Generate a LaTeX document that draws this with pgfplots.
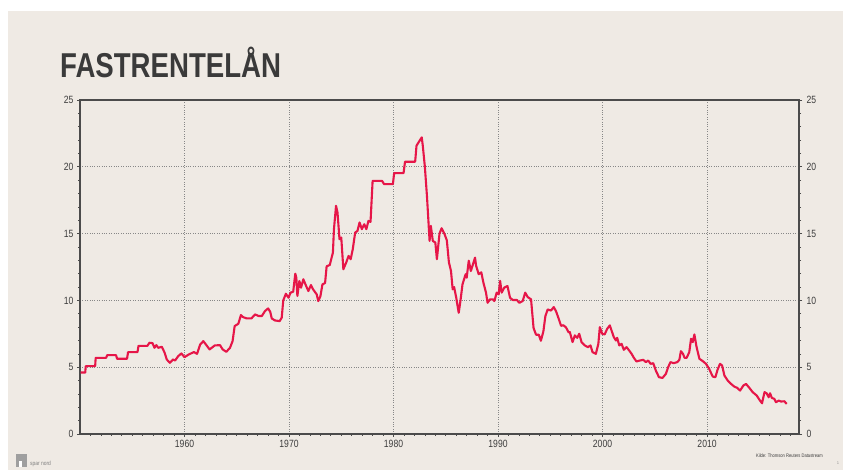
\documentclass[border=0pt]{standalone}
\usepackage{pgfplots}
\pgfplotsset{compat=1.18}
\usepackage{fontspec}
\setmainfont{Liberation Sans}[FakeStretch=0.82]
\newfontfamily\titlefont{Liberation Sans Bold}[FakeStretch=0.8]
\definecolor{bg}{RGB}{239,234,228}
\definecolor{linered}{RGB}{230,22,72}
\definecolor{axisgray}{RGB}{75,75,75}
\definecolor{gridgray}{RGB}{135,135,135}
\definecolor{titlegray}{RGB}{58,58,58}
\definecolor{txtgray}{RGB}{60,60,60}
\begin{document}
\begin{tikzpicture}[x=1pt,y=1pt]
\useasboundingbox (0,0) rectangle (843,470);
\fill[white] (0,0) rectangle (843,470);
\fill[bg] (8,0) rectangle (843,459);
\begin{axis}[
  scale only axis, width=719pt, height=334pt,
  at={(80pt,36pt)}, anchor=south west,
  xmin=1950, xmax=2018.8, ymin=0, ymax=25,
  xtick={1960,1970,...,2010}, minor xtick={1951,...,2018},
  ytick={0,5,...,25}, minor ytick={1,...,24},
  xmajorgrids, ymajorgrids,
  grid style={dotted, gridgray, line width=0.8pt},
  axis line style={axisgray, line width=1.6pt},
  tick style={axisgray, line width=0.6pt},
  tick align=outside, major tick length=3pt, minor tick length=2pt,
  xtick pos=left, ytick pos=both, yticklabel pos=left,
  tick label style={font=\fontsize{10.5}{10.5}\selectfont, text=txtgray},
  /pgf/number format/assume math mode=true,
  /pgf/number format/set thousands separator={},
]
\addplot[linered, line width=2.1pt, line join=round, no markers] table {
1950.05 4.6
1950.5 4.6
1950.55 5.08
1951.45 5.08
1951.5 5.7
1952.5 5.7
1952.6 5.9
1953.45 5.9
1953.55 5.63
1954.5 5.63
1954.6 6.13
1955.5 6.13
1955.6 6.6
1956.45 6.6
1956.65 6.83
1956.94 6.8
1957.13 6.45
1957.3 6.65
1957.5 6.45
1957.83 6.53
1958.1 6.08
1958.3 5.58
1958.6 5.33
1958.9 5.58
1959.1 5.5
1959.4 5.83
1959.7 6.03
1960.0 5.75
1960.4 5.95
1960.9 6.13
1961.2 6.0
1961.5 6.7
1961.8 6.95
1962.0 6.75
1962.4 6.33
1962.9 6.63
1963.4 6.65
1963.65 6.33
1964.0 6.15
1964.35 6.45
1964.6 6.95
1964.8 8.08
1965.15 8.25
1965.4 8.9
1965.6 8.75
1965.95 8.65
1966.4 8.65
1966.75 8.95
1967.1 8.83
1967.4 8.83
1967.7 9.2
1968.0 9.4
1968.2 9.15
1968.35 8.65
1968.65 8.5
1969.1 8.45
1969.3 8.7
1969.45 10.0
1969.7 10.5
1969.95 10.2
1970.15 10.58
1970.4 10.65
1970.6 12.0
1970.7 11.7
1970.8 10.33
1970.99 11.45
1971.15 10.95
1971.37 11.58
1971.6 11.15
1971.85 10.7
1972.1 11.15
1972.3 10.83
1972.65 10.45
1972.8 9.95
1973.0 10.3
1973.2 11.2
1973.45 11.3
1973.6 12.55
1973.9 12.65
1974.2 13.58
1974.3 15.33
1974.5 17.08
1974.64 16.58
1974.83 14.58
1975.0 14.7
1975.2 12.33
1975.47 12.83
1975.7 13.33
1975.9 13.08
1976.1 13.83
1976.33 15.08
1976.55 15.2
1976.75 15.83
1976.97 15.33
1977.2 15.7
1977.4 15.33
1977.6 15.95
1977.8 15.88
1978.0 18.95
1978.9 18.95
1979.1 18.7
1979.94 18.7
1980.06 19.53
1980.96 19.53
1981.1 20.38
1982.07 20.38
1982.2 21.58
1982.4 21.83
1982.6 22.08
1982.7 22.2
1982.8 21.58
1983.0 20.0
1983.2 17.8
1983.35 15.8
1983.45 14.45
1983.57 15.58
1983.76 14.45
1984.0 14.33
1984.15 13.08
1984.4 15.0
1984.6 15.4
1984.86 15.0
1985.1 14.5
1985.3 12.85
1985.5 12.2
1985.66 10.83
1985.8 11.0
1986.0 10.2
1986.24 9.07
1986.4 9.95
1986.6 11.2
1986.9 11.96
1987.0 11.7
1987.2 12.97
1987.4 12.2
1987.6 12.7
1987.8 13.2
1987.9 12.6
1988.15 11.96
1988.4 12.1
1988.6 11.33
1988.85 10.58
1989.0 9.82
1989.23 10.08
1989.5 10.08
1989.65 9.95
1989.87 10.58
1990.06 10.45
1990.2 11.46
1990.35 10.58
1990.6 10.96
1990.9 11.08
1991.15 10.2
1991.4 10.03
1991.8 10.03
1992.04 9.82
1992.36 9.95
1992.6 10.58
1992.84 10.25
1993.16 10.08
1993.4 7.93
1993.64 7.43
1993.9 7.43
1994.1 6.98
1994.34 7.68
1994.53 8.82
1994.75 9.32
1995.07 9.24
1995.33 9.5
1995.55 9.19
1995.8 8.64
1996.03 8.1
1996.25 8.14
1996.5 7.98
1996.76 7.6
1996.87 7.63
1997.13 6.88
1997.35 7.38
1997.58 7.2
1997.77 7.5
1997.99 6.88
1998.3 6.63
1998.6 6.5
1998.85 6.63
1999.04 6.13
1999.36 6.0
1999.6 6.75
1999.74 8.0
1999.97 7.5
2000.2 7.45
2000.45 7.88
2000.7 8.13
2000.86 7.75
2001.08 7.25
2001.28 7.0
2001.4 7.2
2001.6 6.63
2001.82 6.75
2002.04 6.3
2002.3 6.5
2002.55 6.25
2002.78 6.0
2003.0 5.7
2003.25 5.43
2003.57 5.5
2003.9 5.55
2004.15 5.38
2004.37 5.5
2004.6 5.25
2004.85 5.3
2005.1 4.75
2005.4 4.25
2005.74 4.2
2006.06 4.5
2006.28 5.0
2006.5 5.38
2006.8 5.3
2007.15 5.38
2007.35 5.55
2007.5 6.2
2007.7 6.0
2007.85 5.7
2008.05 5.7
2008.3 6.13
2008.47 7.13
2008.63 6.88
2008.79 7.45
2009.0 6.5
2009.27 5.63
2009.6 5.45
2009.9 5.25
2010.2 4.88
2010.54 4.3
2010.8 4.25
2011.0 4.8
2011.24 5.25
2011.44 5.13
2011.66 4.38
2011.98 4.0
2012.3 3.75
2012.6 3.55
2012.9 3.45
2013.16 3.25
2013.48 3.63
2013.73 3.75
2014.05 3.45
2014.37 3.13
2014.75 2.88
2015.07 2.5
2015.26 2.3
2015.5 3.13
2015.7 3.05
2015.9 2.75
2016.03 3.05
2016.2 2.7
2016.44 2.63
2016.6 2.38
2016.86 2.5
2017.08 2.43
2017.4 2.45
2017.62 2.25
};
\end{axis}
\begin{axis}[
  scale only axis, width=719pt, height=334pt,
  at={(80pt,36pt)}, anchor=south west,
  xmin=1950, xmax=2018.8, ymin=0, ymax=25,
  hide x axis, axis y line*=right, axis line style={draw=none},
  ytick={0,5,...,25}, major tick length=0pt,
  yticklabel style={font=\fontsize{10.5}{10.5}\selectfont, text=txtgray, xshift=4pt},
  /pgf/number format/assume math mode=true,
]
\end{axis}
\node[anchor=base west, inner sep=0, text=titlegray] at (60,392.7) {\titlefont\fontsize{34.5}{34.5}\selectfont FASTRENTELÅN};
\node[anchor=base east, inner sep=0, text=txtgray] at (823,12) {\fontsize{5}{5}\selectfont Kilde: Thomson Reuters Datastream};
\fill[gray!75] (16,3) rectangle (27,16);
\fill[white] (19,3) rectangle (22,9);
\node[anchor=base west, inner sep=0, text=gray] at (30,4) {\fontsize{6}{6}\selectfont spar nord};
\node[anchor=base, inner sep=0, text=gray] at (838,5) {\fontsize{4}{4}\selectfont 1};
\end{tikzpicture}
\end{document}
